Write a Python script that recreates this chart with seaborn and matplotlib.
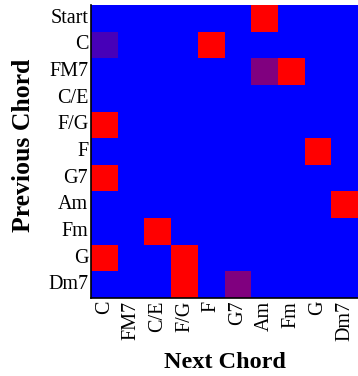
import numpy as np
import pandas as pd
import matplotlib
matplotlib.use("Agg")
import matplotlib.pyplot as plt
from matplotlib.colors import LinearSegmentedColormap
import seaborn as sns

prev_chords = ["Start", "C", "FM7", "C/E", "F/G", "F", "G7", "Am", "Fm", "G", "Dm7"]
next_chords = ["C", "FM7", "C/E", "F/G", "F", "G7", "Am", "Fm", "G", "Dm7"]

# transition weights (row = previous, col = next)
row_start = [0, 0, 0, 0, 0, 0, 1, 0, 0, 0]
row_c     = [0.28, 0, 0, 0, 1, 0, 0, 0, 0, 0]
row_fm7   = [0, 0, 0, 0, 0, 0, 0.5, 1, 0, 0]
row_ce    = [0, 0, 0, 0, 0, 0, 0, 0, 0, 0]
row_fg    = [1, 0, 0, 0, 0, 0, 0, 0, 0, 0]
row_f     = [0, 0, 0, 0, 0, 0, 0, 0, 1, 0]
row_g7    = [1, 0, 0, 0, 0, 0, 0, 0, 0, 0]
row_am    = [0, 0, 0, 0, 0, 0, 0, 0, 0, 1]
row_fm    = [0, 0, 1, 0, 0, 0, 0, 0, 0, 0]
row_g     = [1, 0, 0, 1, 0, 0, 0, 0, 0, 0]
row_dm7   = [0, 0, 0, 1, 0, 0.5, 0, 0, 0, 0]

rows = [row_start, row_c, row_fm7, row_ce, row_fg, row_f,
        row_g7, row_am, row_fm, row_g, row_dm7]
df = pd.DataFrame(rows, index=prev_chords, columns=next_chords)

plt.rcParams['font.family'] = ['Liberation Serif', 'DejaVu Serif']

cmap = LinearSegmentedColormap.from_list("blue_red", ["#0000ff", "#ff0000"])

fig = plt.figure(figsize=(3.58, 3.76), dpi=100)
ax = fig.add_axes([91 / 358, 1 - 298 / 376, 1 - 91 / 358, 293 / 376])
sns.heatmap(df, cmap=cmap, vmin=0, vmax=1, cbar=False, ax=ax)

for side in ["left", "bottom"]:
    ax.spines[side].set_visible(True)
    ax.spines[side].set_color("black")
    ax.spines[side].set_linewidth(1.2)

ax.tick_params(length=0, pad=2, labelsize=14.5)
ax.set_xticklabels(next_chords, rotation=90)
ax.set_yticklabels(prev_chords, rotation=0)
ax.set_xlabel("Next Chord", fontsize=17.5, fontweight="bold", labelpad=8)
ax.set_ylabel("Previous Chord", fontsize=18.5, fontweight="bold")
ax.yaxis.set_label_coords(-0.208, 0.52)

fig.savefig("out.png", dpi=100)
plt.close()
